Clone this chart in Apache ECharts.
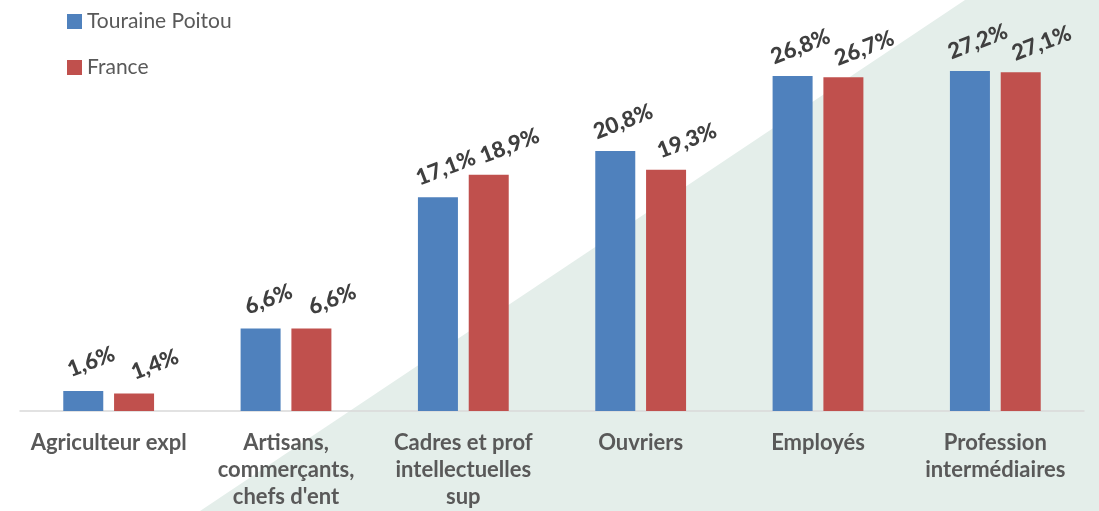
<!DOCTYPE html>
<html><head><meta charset="utf-8">
<script src="https://cdn.jsdelivr.net/npm/echarts@6/dist/echarts.min.js"></script>
<style>html,body{margin:0;padding:0;background:#fff}#c{width:1099px;height:511px}</style>
</head><body><div id="c"></div>
<script>
const categories = ["Agriculteur expl", "Artisans,\ncommerçants,\nchefs d'ent", "Cadres et prof\nintellectuelles\nsup", "Ouvriers", "Employés", "Profession\nintermédiaires"];
const touraine = [1.6, 6.6, 17.1, 20.8, 26.8, 27.2];
const france = [1.4, 6.6, 18.9, 19.3, 26.7, 27.1];
const seriesNames = ["Touraine Poitou", "France"];

const chart = echarts.init(document.getElementById('c'));
const fmt = p => p.value.toFixed(1).replace('.', ',') + '%';
const labelBase = {
  show: true, position: 'top', rotate: 21, distance: 8,
  fontFamily: 'Lato', fontWeight: 900, fontSize: 22, color: '#3F3F3F',
  formatter: fmt
};
chart.setOption({
  animation: false,
  textStyle: { fontFamily: 'Lato' },
  graphic: [{
    type: 'polygon', z: -10, silent: true,
    shape: { points: [[200, 511], [965, 0], [1099, 0], [1099, 511]] },
    style: { fill: '#E4EEEA' }
  }],
  legend: {
    orient: 'vertical', left: 62, top: 6, itemGap: 25,
    itemWidth: 15, itemHeight: 15, icon: 'rect',
    textStyle: { fontSize: 21, color: '#595959', fontFamily: 'Lato' },
    data: seriesNames
  },
  grid: { left: 20, right: 15, top: 36, bottom: 100 },
  xAxis: {
    type: 'category', data: categories,
    axisLine: { lineStyle: { color: '#D9D9D9', width: 1.5 } },
    axisTick: { show: false },
    axisLabel: { interval: 0, margin: 18, fontSize: 22, fontWeight: 'bold', color: '#595959', lineHeight: 27, fontFamily: 'Lato' }
  },
  yAxis: { type: 'value', min: 0, max: 30, show: false, splitLine: { show: false } },
  series: [
    { name: seriesNames[0], type: 'bar', data: touraine, barWidth: 40, barGap: '27%', itemStyle: { color: '#4F81BD' },
      label: Object.assign({}, labelBase, { offset: [15, -6] }) },
    { name: seriesNames[1], type: 'bar', data: france, barWidth: 40, barGap: '27%', itemStyle: { color: '#C0504D' },
      label: Object.assign({}, labelBase, { offset: [27, -1] }) }
  ]
});
</script></body></html>
